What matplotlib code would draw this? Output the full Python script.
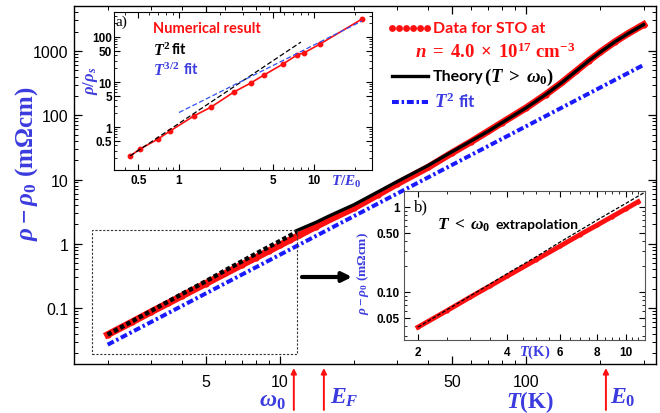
import numpy as np
import matplotlib
matplotlib.use('Agg')
import matplotlib.pyplot as plt
from matplotlib.patches import Rectangle

plt.rcParams.update({
    'font.family': 'Liberation Sans',
    'mathtext.fontset': 'custom',
    'mathtext.rm': 'Liberation Serif:bold',
    'mathtext.it': 'Liberation Serif:italic:bold',
    'mathtext.bf': 'Liberation Serif:bold',
    'mathtext.sf': 'Liberation Serif:bold',
    'xtick.direction': 'in', 'ytick.direction': 'in',
    'xtick.top': True, 'ytick.right': True,
})

RED = '#ff1010'
BLUE = '#3b3bdf'
LBLUE = '#1a1aff'

# ---- main panel: STO data for n = 4.0e17 cm^-3
T_data = [2, 2.5, 3, 3.5, 4, 5, 6, 7, 8, 9, 10, 11, 12, 14, 16, 20, 25, 30,
          40, 50, 60, 70, 80, 100, 120, 140, 160, 180, 200, 230, 260, 300]
rho_data = [0.0385, 0.060, 0.087, 0.118, 0.154, 0.24, 0.345, 0.47, 0.61, 0.77,
            0.95, 1.15, 1.36, 1.85, 2.4, 3.6, 5.8, 8.6, 15.5, 26, 39, 56, 77,
            130, 209, 324, 490, 706, 958, 1398, 1876, 2570]
# theory, T > omega_0
T_theory = [11.7, 14, 16, 20, 25, 30, 40, 50, 60, 70, 80, 100, 120, 140, 160,
            180, 200, 230, 260, 300]
rho_theory = [1.6, 2.15, 2.75, 4.05, 6.4, 9.3, 16.5, 27, 40, 56, 77, 130, 209,
              324, 490, 706, 958, 1398, 1876, 2570]
# T < omega_0 extrapolation
T_extrap = [2, 3, 4, 5, 6, 7, 8, 9, 10, 11, 11.7]
rho_extrap = [0.0385, 0.090, 0.165, 0.26, 0.385, 0.53, 0.70, 0.89, 1.10, 1.34, 1.52]
# T^2 fit
T_fit = [2, 300]
rho_fit = [0.0269, 606]

# energy scales (K)
scale_T = [11.4, 15.1, 211]
scale_lbl = [r'$\omega_0$', r'$E_F$', r'$E_0$']

# zoom box drawn on main panel
box_T = [1.73, 11.7]
box_rho = [0.0195, 1.65]

# ---- inset a: numerical result (dimensionless)
t_num = [0.434, 0.514, 0.699, 0.858, 1.29, 1.73, 2.55, 3.40, 4.26, 5.90, 7.48,
         8.43, 11.1, 22.7]
r_num = [0.227, 0.324, 0.541, 0.815, 1.76, 2.78, 5.99, 9.5, 14.3, 25.1, 39.8,
         44.3, 70, 251]
t_fit2 = [0.434, 8.0]
r_fit2 = [0.227, 77]
t_fit32 = [1.0, 22.7]
r_fit32 = [2.1, 227]


def px(x, y):
    return x / 660, 1 - y / 414


fig = plt.figure(figsize=(6.6, 4.14), dpi=100)
ax = fig.add_axes([74 / 660, 1 - 365 / 414, (656 - 74) / 660, (365 - 7) / 414])
ax.set_xscale('log')
ax.set_yscale('log')

ax.plot(T_fit, rho_fit, color=LBLUE, lw=2.9, dashes=(1.7, 0.7, 0.6, 0.7), zorder=2)
ax.plot(T_data, rho_data, color=RED, lw=5, marker='o', ms=4.5, mew=0, zorder=3)
ax.plot(T_theory, rho_theory, color='black', lw=2.4, zorder=4)
ax.plot(T_extrap, rho_extrap, color='black', lw=3.2, dashes=(1.0, 0.6), zorder=4)

ax.add_patch(Rectangle((box_T[0], box_rho[0]), box_T[1] - box_T[0],
                       box_rho[1] - box_rho[0], fill=False, lw=0.8,
                       ls=(0, (2, 1.5)), ec='#333333', zorder=5))

ax.set_xlim(1.46, 337)
ax.set_ylim(0.01346, 5010)
ax.set_xticks([5, 10, 50, 100])
ax.set_xticklabels(['5', '10', '50', '100'])
ax.set_xticks([2, 3, 4, 6, 7, 8, 9, 20, 30, 40, 60, 70, 80, 90, 200, 300], minor=True)
ax.set_yticks([0.1, 1, 10, 100, 1000])
ax.set_yticklabels(['0.1', '1', '10', '100', '1000'])
ymin = [k * 10.0 ** e for e in range(-2, 4) for k in range(2, 10)]
ax.set_yticks([v for v in ymin if 0.0135 < v < 5000], minor=True)
ax.set_yticklabels([], minor=True)
ax.set_xticklabels([], minor=True)
ax.tick_params(which='major', length=6, width=0.9, labelsize=11.5)
ax.tick_params(which='minor', length=3, width=0.7)
ax.tick_params(axis='x', pad=7)
ax.tick_params(axis='y', pad=4)
for s in ax.spines.values():
    s.set_linewidth(1.0)

# axis labels
fig.text(*px(27, 164), r'$\rho - \rho_0\ (\mathrm{m\Omega cm})$', rotation=90,
         ha='center', va='center', fontsize=18, color=BLUE)
fig.text(*px(530, 408), r'$T(\mathrm{K})$', ha='center', va='baseline',
         fontsize=16.5, color=BLUE)

# energy scale arrows
for T, lbl in zip(scale_T, scale_lbl):
    ax.annotate('', xy=(T, 1 - 369 / 414), xytext=(T, 1 - 411 / 414),
                xycoords=('data', 'figure fraction'),
                textcoords=('data', 'figure fraction'),
                arrowprops=dict(arrowstyle='-|>', color=RED, lw=1.4,
                                mutation_scale=8, shrinkA=0, shrinkB=0))
fig.text(*px(286, 401), scale_lbl[0], ha='right', va='center', fontsize=17, color=BLUE)
fig.text(*px(330, 398), scale_lbl[1], ha='left', va='center', fontsize=17, color=BLUE)
fig.text(*px(610, 398), scale_lbl[2], ha='left', va='center', fontsize=17, color=BLUE)

# black arrow towards inset b
ax.annotate('', xy=px(352, 278), xytext=px(302, 278), xycoords='figure fraction',
            arrowprops=dict(arrowstyle='-|>', color='black', lw=3,
                            mutation_scale=14, shrinkA=0, shrinkB=0))

# main legend (drawn by hand)
lx = [px(392, 0)[0], px(428, 0)[0]]
y = px(0, 29)[1]
ax.plot(lx, [y, y], transform=fig.transFigure, color=RED, lw=5,
        ls=(0, (0.01, 1.0)), dash_capstyle='round', clip_on=False)
fig.text(*px(433, 29), 'Data for STO at', color=RED, fontfamily='Lato',
         fontweight='bold', fontsize=11.5, va='center')
fig.text(*px(415, 52), r'$n\;=\;4.0\;\times\;10^{17}\ \mathrm{cm}^{-3}$', color=RED,
         fontsize=13.5, va='center')
y = px(0, 77)[1]
ax.plot(lx, [y, y], transform=fig.transFigure, color='black', lw=2.4, clip_on=False)
fig.text(*px(433, 77), 'Theory', color='black', fontfamily='Lato',
         fontweight='bold', fontsize=11.5, va='center')
fig.text(*px(484, 77), r'$(T\;>\;\omega_0)$', color='black', fontsize=13.5,
         va='center')
y = px(0, 103)[1]
ax.plot(lx, [y, y], transform=fig.transFigure, color=LBLUE, lw=2.9,
        dashes=(1.7, 0.7, 0.6, 0.7), clip_on=False)
fig.text(*px(434, 102), r'$T^2$', color=BLUE, fontsize=13.5, va='center')
fig.text(*px(459, 102), 'fit', color=BLUE, fontfamily='Lato',
         fontweight='bold', fontsize=12, va='center')

# ---- inset a
axa = fig.add_axes([114 / 660, 1 - 171 / 414, (372 - 114) / 660, (171 - 13) / 414])
axa.set_xscale('log')
axa.set_yscale('log')
axa.plot(t_num, r_num, color=RED, lw=1.2, marker='o', ms=3.2)
axa.plot(t_fit2, r_fit2, color='black', lw=0.9, dashes=(4, 2))
axa.plot(t_fit32, r_fit32, color='#3050f0', lw=0.9, dashes=(4, 2))
axa.set_xlim(0.33, 26.9)
axa.set_ylim(0.111, 359)
axa.set_xticks([0.5, 1, 5, 10])
axa.set_xticklabels(['0.5', '1', '5', '10'])
axa.set_xticks([0.4, 0.6, 0.7, 0.8, 0.9, 2, 3, 4, 6, 7, 8, 9, 20], minor=True)
axa.set_yticks([0.5, 1, 5, 10, 50, 100])
axa.set_yticklabels(['0.5', '1', '5', '10', '50', '100'])
amin = [k * 10.0 ** e for e in range(-1, 3) for k in (2, 3, 4, 6, 7, 8, 9)]
axa.set_yticks([v for v in amin if 0.111 < v < 359], minor=True)
axa.set_xticklabels([], minor=True)
axa.set_yticklabels([], minor=True)
axa.tick_params(which='major', length=4, width=0.8, labelsize=8.5)
axa.tick_params(which='minor', length=2, width=0.6)
axa.tick_params(axis='x', pad=3)
axa.tick_params(axis='y', pad=1.5)
for lab in axa.get_xticklabels() + axa.get_yticklabels():
    lab.set_fontweight('bold')

fig.text(*px(116, 22), 'a)', fontfamily='Liberation Serif', fontsize=11, va='center')
y = px(0, 29)[1]
ax.plot([px(134, 0)[0], px(149, 0)[0]], [y, y], transform=fig.transFigure, color=RED,
        lw=1.2, marker='o', ms=3, clip_on=False, zorder=10)
ax.plot([px(138, 0)[0], px(145, 0)[0]], [y, y], transform=fig.transFigure, color=RED,
        lw=0, marker='o', ms=3, clip_on=False, zorder=10)
fig.text(*px(153, 29), 'Numerical result', color=RED, fontfamily='Lato',
         fontweight='bold', fontsize=10.5, va='center')
y = px(0, 50)[1]
ax.plot([px(133, 0)[0], px(148, 0)[0]], [y, y], transform=fig.transFigure,
        color='black', lw=0.9, dashes=(3, 1.5), clip_on=False, zorder=10)
fig.text(*px(153, 50), r'$T^2$', color='black', fontsize=11.5, va='center')
fig.text(*px(172, 50), 'fit', color='black', fontfamily='Lato',
         fontweight='bold', fontsize=10.5, va='center')
y = px(0, 70)[1]
ax.plot([px(133, 0)[0], px(148, 0)[0]], [y, y], transform=fig.transFigure,
        color='#3050f0', lw=0.9, dashes=(3, 1.5), clip_on=False, zorder=10)
fig.text(*px(153, 70), r'$T^{3/2}$', color=BLUE, fontsize=11.5, va='center')
fig.text(*px(184, 70), 'fit', color=BLUE, fontfamily='Lato',
         fontweight='bold', fontsize=10.5, va='center')
fig.text(*px(90, 81), r'$\rho/\rho_s$', rotation=90, ha='center', va='center',
         fontsize=12, color=BLUE)
fig.text(*px(346, 182), r'$T/E_0$', ha='center', va='center', fontsize=11, color=BLUE)

# ---- inset b
axb = fig.add_axes([404 / 660, 1 - 341 / 414, (645 - 404) / 660, (341 - 192) / 414])
axb.set_xscale('log')
axb.set_yscale('log')
Tb = [t for t in T_data if t <= 11.6]
rb = rho_data[:len(Tb)]
axb.plot(Tb, rb, color=RED, lw=3.5, marker='o', ms=3, mew=0)
axb.plot(T_extrap, rho_extrap, color='black', lw=0.9, dashes=(3, 1.5))
axb.set_xlim(1.795, 11.6)
axb.set_ylim(0.0272, 1.54)
axb.set_xticks([2, 4, 6, 8, 10])
axb.set_xticklabels(['2', '4', '6', '8', '10'])
axb.set_xticks([2.5, 3, 3.5, 4.5, 5, 5.5, 6.5, 7, 7.5, 8.5, 9, 9.5, 10.5, 11], minor=True)
axb.set_yticks([0.05, 0.1, 0.5, 1])
axb.set_yticklabels(['0.05', '0.10', '0.50', '1'])
bmin = [k * 10.0 ** e for e in range(-2, 1) for k in (2, 3, 4, 6, 7, 8, 9)]
axb.set_yticks([v for v in bmin if 0.0272 < v < 1.54], minor=True)
axb.set_xticklabels([], minor=True)
axb.set_yticklabels([], minor=True)
axb.tick_params(which='major', length=4, width=0.8, labelsize=8.5)
axb.tick_params(which='minor', length=2, width=0.6)
axb.tick_params(axis='x', pad=4)
axb.tick_params(axis='y', pad=3)
for lab in axb.get_xticklabels() + axb.get_yticklabels():
    lab.set_fontweight('bold')
for s in axb.spines.values():
    s.set_color('#555555')

fig.text(*px(421, 207), 'b)', fontfamily='Liberation Serif', fontsize=12,
         ha='center', va='center')
y = px(0, 225)[1]
ax.plot([px(412, 0)[0], px(432, 0)[0]], [y, y], transform=fig.transFigure,
        color='black', lw=0.9, dashes=(3, 1.5), clip_on=False, zorder=10)
fig.text(*px(437, 225), r'$T\;<\;\omega_0$', color='black', fontsize=12.5, va='center')
fig.text(*px(496, 225), 'extrapolation', color='black',
         fontfamily='Lato', fontweight='bold', fontsize=10, va='center')
fig.text(*px(363, 232), r'$\rho - \rho_0\ (\mathrm{m\Omega cm})$', rotation=90,
         ha='center', va='top', fontsize=9.5, color=BLUE)
fig.text(*px(535, 352), r'$T(\mathrm{K})$', ha='center', va='center',
         fontsize=10.5, color=BLUE)

fig.savefig('out.png', dpi=100)
